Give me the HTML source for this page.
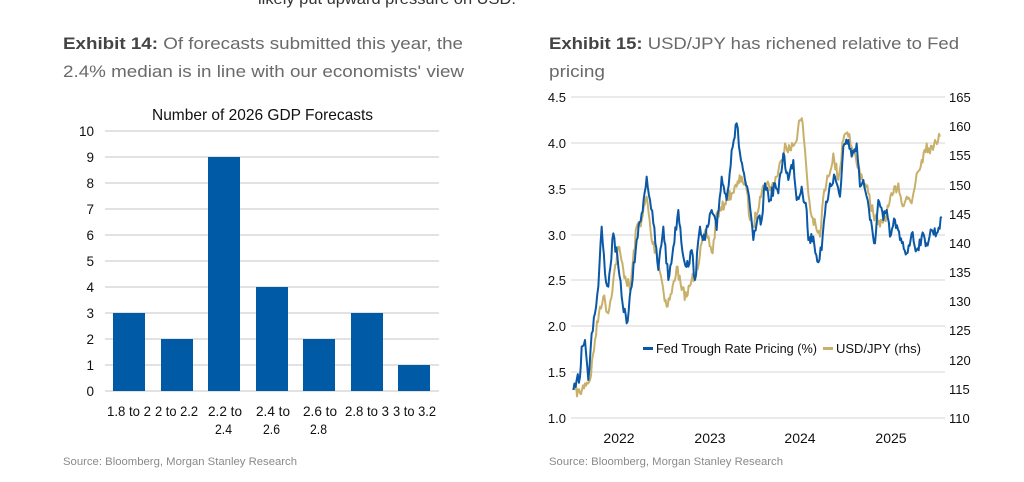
<!DOCTYPE html>
<html><head><meta charset="utf-8"><style>
body{margin:0;width:1024px;height:482px;background:#fff;overflow:hidden;font-family:"Liberation Sans",sans-serif}
</style></head><body>
<svg id="s" width="1024" height="482" xmlns="http://www.w3.org/2000/svg" style="position:absolute;left:0;top:0">
<text x="258" y="4" font-size="16" fill="#333" font-family="Liberation Sans" textLength="258" lengthAdjust="spacingAndGlyphs">likely put upward pressure on USD.</text>
<g font-size="17" fill="#6a6a6a" font-family="Liberation Sans">
<text x="63" y="49" textLength="400" lengthAdjust="spacingAndGlyphs"><tspan font-weight="bold" fill="#444">Exhibit 14:</tspan>  Of forecasts submitted this year, the</text>
<text x="63" y="77" textLength="401" lengthAdjust="spacingAndGlyphs">2.4% median is in line with our economists' view</text>
<text x="549" y="49" textLength="410" lengthAdjust="spacingAndGlyphs"><tspan font-weight="bold" fill="#444">Exhibit 15:</tspan>  USD/JPY has richened relative to Fed</text>
<text x="549" y="77" textLength="56" lengthAdjust="spacingAndGlyphs">pricing</text>
</g>
<g font-family="'Liberation Sans',sans-serif" fill="#111">
<text x="152" y="120" font-size="16" textLength="221" lengthAdjust="spacingAndGlyphs">Number of 2026 GDP Forecasts</text>
<g stroke="#d0d0d0" stroke-width="1.2">
<line x1="105" x2="439" y1="131" y2="131"/><line x1="105" x2="439" y1="157" y2="157"/><line x1="105" x2="439" y1="183" y2="183"/><line x1="105" x2="439" y1="209" y2="209"/><line x1="105" x2="439" y1="235" y2="235"/><line x1="105" x2="439" y1="261" y2="261"/><line x1="105" x2="439" y1="287" y2="287"/><line x1="105" x2="439" y1="313" y2="313"/><line x1="105" x2="439" y1="339" y2="339"/><line x1="105" x2="439" y1="365" y2="365"/><line x1="105" x2="439" y1="391" y2="391"/>
</g>
<g font-size="13.5" text-anchor="end">
<text x="94" y="136">10</text><text x="94" y="162">9</text><text x="94" y="188">8</text><text x="94" y="214">7</text><text x="94" y="240">6</text><text x="94" y="266">5</text><text x="94" y="292">4</text><text x="94" y="318">3</text><text x="94" y="344">2</text><text x="94" y="370">1</text><text x="94" y="396">0</text>
</g>
<g fill="#005aa6">
<rect x="113" y="313" width="32" height="78"/>
<rect x="161" y="339" width="32" height="52"/>
<rect x="208" y="157" width="32" height="234"/>
<rect x="256" y="287" width="32" height="104"/>
<rect x="303" y="339" width="32" height="52"/>
<rect x="351" y="313" width="32" height="78"/>
<rect x="398" y="365" width="32" height="26"/>
</g>
<g font-size="14">
<text x="107" y="416" textLength="44" lengthAdjust="spacingAndGlyphs">1.8 to 2</text><text x="155" y="416" textLength="43" lengthAdjust="spacingAndGlyphs">2 to 2.2</text>
<text x="208" y="416" textLength="34" lengthAdjust="spacingAndGlyphs">2.2 to</text><text x="215" y="434" textLength="17" lengthAdjust="spacingAndGlyphs">2.4</text>
<text x="256" y="416" textLength="34" lengthAdjust="spacingAndGlyphs">2.4 to</text><text x="263" y="434" textLength="17" lengthAdjust="spacingAndGlyphs">2.6</text>
<text x="303" y="416" textLength="34" lengthAdjust="spacingAndGlyphs">2.6 to</text><text x="310" y="434" textLength="17" lengthAdjust="spacingAndGlyphs">2.8</text>
<text x="345" y="416" textLength="44" lengthAdjust="spacingAndGlyphs">2.8 to 3</text><text x="393" y="416" textLength="43" lengthAdjust="spacingAndGlyphs">3 to 3.2</text>
</g>
</g>
<g font-family="Liberation Sans" font-size="11" fill="#8a8a8a">
<text x="63" y="465" textLength="234" lengthAdjust="spacingAndGlyphs">Source: Bloomberg, Morgan Stanley Research</text>
<text x="549" y="465" textLength="234" lengthAdjust="spacingAndGlyphs">Source: Bloomberg, Morgan Stanley Research</text>
</g>
<g stroke="#d5d5d5" stroke-width="1">
<line x1="571" x2="945" y1="97" y2="97"/><line x1="571" x2="945" y1="143" y2="143"/><line x1="571" x2="945" y1="189" y2="189"/><line x1="571" x2="945" y1="235" y2="235"/><line x1="571" x2="945" y1="280" y2="280"/><line x1="571" x2="945" y1="326" y2="326"/><line x1="571" x2="945" y1="372" y2="372"/><line x1="571" x2="945" y1="418" y2="418"/>
</g>
<g font-family="'Liberation Sans',sans-serif" font-size="13" fill="#111">
<g text-anchor="end">
<text x="566" y="102">4.5</text><text x="566" y="148">4.0</text><text x="566" y="194">3.5</text><text x="566" y="240">3.0</text><text x="566" y="285">2.5</text><text x="566" y="331">2.0</text><text x="566" y="377">1.5</text><text x="566" y="423">1.0</text>
</g>
<text x="949" y="102">165</text><text x="949" y="131">160</text><text x="949" y="160">155</text><text x="949" y="190">150</text><text x="949" y="219">145</text><text x="949" y="248">140</text><text x="949" y="277">135</text><text x="949" y="306">130</text><text x="949" y="335">125</text><text x="949" y="365">120</text><text x="949" y="394">115</text><text x="949" y="423">110</text>
<g font-size="14" text-anchor="middle"><text x="619" y="443">2022</text><text x="710" y="443">2023</text><text x="800" y="443">2024</text><text x="891" y="443">2025</text></g>
</g>
<g transform="translate(530,80) scale(0.33333)" fill="none" stroke-linejoin="round">
<polyline id="g1" vector-effect="non-scaling-stroke" stroke="#c9b06a" stroke-width="2" points="135,930 150,940 165,910 180,900 195,780 210,680 220,650 235,700 250,600 265,500 280,570 300,630 320,440 335,420 350,350 365,480 380,520 395,600 410,680 425,640 440,560 455,630 470,650 485,600 500,570 515,490 530,460 548,520 560,400 575,390 590,350 605,340 620,320 635,290 650,330 660,420 670,440 690,350 705,310 725,320 740,290 755,240 765,190 780,210 795,190 810,120 818,130 825,210 835,340 845,410 860,450 870,470 880,350 895,290 910,220 925,300 940,180 955,170 965,200 980,250 1000,300 1015,340 1030,400 1050,440 1070,400 1090,340 1105,310 1115,370 1130,350 1145,370 1160,280 1175,240 1190,190 1200,220 1215,180 1230,170"/>
<polyline id="b1" vector-effect="non-scaling-stroke" stroke="#0a58a6" stroke-width="2" points="130,930 140,900 150,890 155,800 165,780 175,900 185,760 195,700 205,620 215,440 225,580 235,620 250,460 265,560 275,650 290,730 305,620 320,480 335,400 350,290 360,360 370,430 385,570 400,440 415,600 430,500 445,390 460,530 475,560 485,510 495,600 510,440 525,480 545,390 560,450 575,290 590,360 605,210 620,130 630,220 645,300 660,380 670,480 680,430 695,420 705,310 720,360 735,310 745,340 760,220 775,300 790,240 800,360 815,320 830,390 835,480 850,470 862,545 875,510 885,400 900,310 915,290 930,350 940,200 955,180 965,230 980,190 990,320 1000,300 1010,350 1020,420 1035,490 1045,360 1060,420 1070,390 1080,470 1095,420 1110,480 1130,520 1145,460 1160,510 1175,470 1190,490 1205,450 1220,460 1235,410"/>
</g>
<rect x="643" y="347" width="10" height="3" fill="#0a58a6"/>
<rect x="823" y="347" width="10" height="3" fill="#c9b06a"/>
<g font-family="'Liberation Sans',sans-serif" font-size="13" fill="#111">
<text x="656" y="353" textLength="161" lengthAdjust="spacingAndGlyphs">Fed Trough Rate Pricing (%)</text>
<text x="836" y="353" textLength="85" lengthAdjust="spacingAndGlyphs">USD/JPY (rhs)</text>
</g>
</svg>
<script>
(function(){
var seed=7;function r(){seed=(seed*16807)%2147483647;return seed/2147483647-0.5;}
['g1','b1'].forEach(function(id){
var el=document.getElementById(id);var pts=el.getAttribute('points').trim().split(/\s+/).map(function(p){return p.split(',').map(Number);});
var out=[];
for(var i=0;i<pts.length-1;i++){var a=pts[i],b=pts[i+1];var n=Math.max(1,Math.round((b[0]-a[0])/3));
for(var k=0;k<n;k++){var t=k/n;var x=a[0]+(b[0]-a[0])*t,y=a[1]+(b[1]-a[1])*t;if(k>0)y+=r()*36;out.push(x.toFixed(1)+','+y.toFixed(1));}}
var l=pts[pts.length-1];out.push(l[0]+','+l[1]);
el.setAttribute('points',out.join(' '));
});})();
</script>
</body></html>
